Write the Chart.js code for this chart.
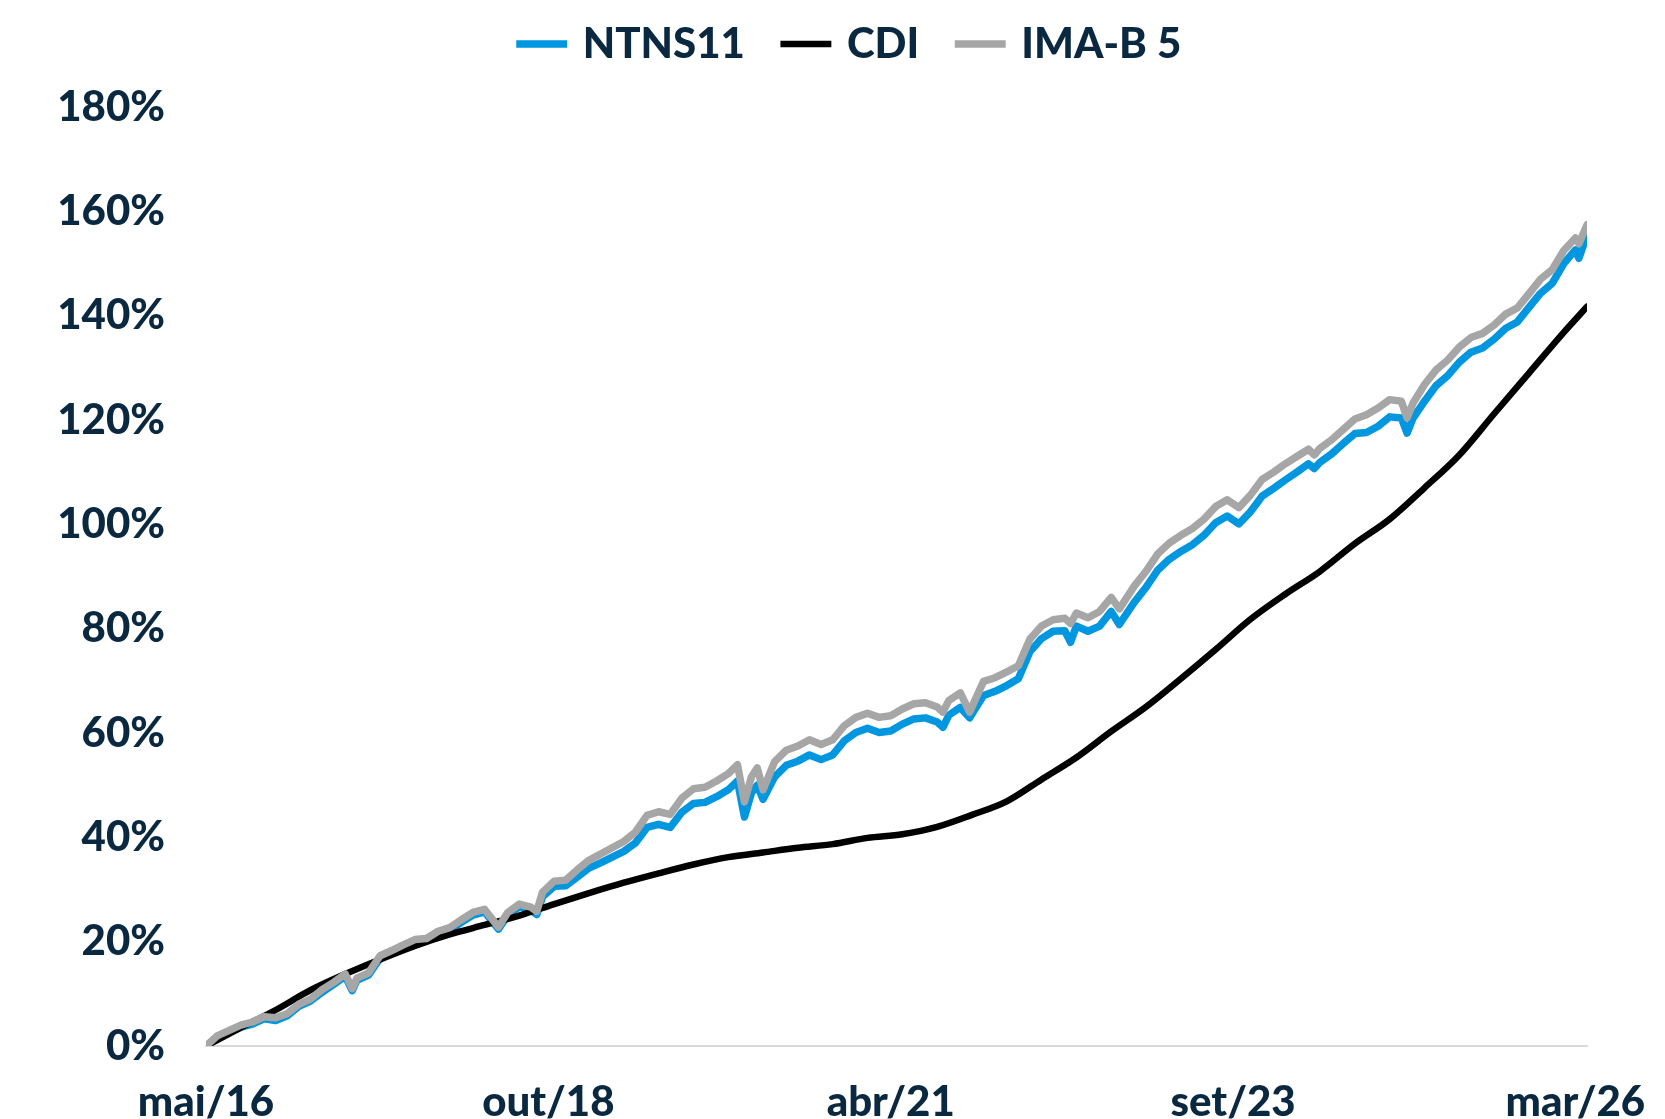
<!DOCTYPE html>
<html lang="pt-BR">
<head>
<meta charset="utf-8">
<title>NTNS11 x CDI x IMA-B 5</title>
<script src="https://cdn.jsdelivr.net/npm/chart.js@4.4.1/dist/chart.umd.min.js"></script>
<style>
  html, body { margin: 0; padding: 0; background: #ffffff; }
  #wrap { width: 1665px; height: 1119px; }
  canvas { display: block; }
</style>
</head>
<body>
<div id="wrap"><canvas id="chart" width="1665" height="1119"></canvas></div>
<script>
// Months elapsed since mai/16 for the market series (a few extra points mark sharp drawdowns)
const marketMonths = [
  0, 1, 2, 3, 4, 5, 6, 7, 8, 9,
  10, 11, 12, 12.6, 13, 14, 15, 16, 17, 18,
  19, 20, 21, 22, 23, 24, 25.2, 26, 27, 28,
  28.5, 29, 30, 31, 32, 33, 34, 35, 36, 37,
  38, 39, 40, 41, 42, 43, 44, 45, 45.8, 46.4,
  47, 47.5, 48, 49, 50, 51, 52, 53, 54, 55,
  56, 57, 58, 59, 60, 61, 62, 63, 63.5, 64,
  65, 65.8, 67, 68, 69, 70, 71, 72, 73, 74,
  74.5, 75, 76, 77, 78, 78.7, 79, 80, 81, 82,
  83, 84, 85, 86, 87, 88, 89, 90, 91, 92,
  93, 94, 95, 95.5, 96, 97, 98, 99, 100, 101,
  102, 103, 103.5, 104, 105, 106, 107, 108, 109, 110,
  111, 112, 113, 114, 115, 116, 117, 118, 118.3, 119
];

// Cumulative return (%) of NTNS11
const ntns11 = [
  0, 1.7, 2.6, 3.6, 4.2, 5.2, 4.9, 5.8, 7.6, 8.6,
  10.3, 11.8, 13.4, 10.6, 12.6, 13.6, 16.8, 17.8, 18.9, 19.9,
  20.1, 21.5, 22.2, 23.7, 25.1, 25.7, 22.4, 25.0, 26.7, 26.0,
  25.2, 28.6, 30.6, 30.7, 32.4, 34.1, 35.1, 36.2, 37.3, 38.9,
  41.9, 42.5, 41.9, 44.8, 46.5, 46.7, 47.8, 49.1, 50.8, 43.9,
  48.5, 50.0, 47.3, 51.6, 53.8, 54.6, 55.8, 54.9, 55.8, 58.5,
  60.1, 60.9, 60.1, 60.4, 61.7, 62.7, 62.9, 62.1, 61.1, 63.4,
  64.9, 62.9, 67.2, 68.0, 69.1, 70.4, 75.6, 78.1, 79.5, 79.6,
  77.4, 80.5, 79.5, 80.5, 83.3, 80.8, 81.8, 85.1, 87.9, 91.2,
  93.3, 94.8, 96.1, 97.9, 100.3, 101.6, 100.1, 102.4, 105.4, 106.9,
  108.5, 110.0, 111.6, 110.7, 111.9, 113.5, 115.5, 117.4, 117.6, 118.8,
  120.6, 120.4, 117.5, 120.3, 123.6, 126.6, 128.5, 131.1, 133.0, 133.8,
  135.5, 137.6, 138.8, 141.6, 144.3, 146.2, 150.0, 152.6, 151.0, 155.5
];

// Cumulative return (%) of IMA-B 5
const imab5 = [
  0, 2.0, 3.0, 4.0, 4.6, 5.6, 5.4, 6.2, 8.0, 9.0,
  10.8, 12.2, 13.8, 11.0, 13.0, 14.0, 17.3, 18.3, 19.4, 20.4,
  20.6, 22.0, 22.7, 24.2, 25.6, 26.2, 22.8, 25.6, 27.2, 26.6,
  25.8, 29.5, 31.6, 31.8, 33.8, 35.6, 36.8, 38.0, 39.2, 41.0,
  44.2, 44.9, 44.4, 47.5, 49.3, 49.6, 50.8, 52.2, 53.9, 46.8,
  51.6, 53.3, 49.1, 54.5, 56.7, 57.5, 58.7, 57.8, 58.7, 61.4,
  63.0, 63.8, 63.0, 63.3, 64.6, 65.6, 65.8, 65.0, 64.0, 66.2,
  67.7, 64.0, 69.9, 70.6, 71.7, 72.9, 78.0, 80.5, 81.7, 82.0,
  81.0, 83.0, 82.1, 83.3, 86.0, 83.8, 84.8, 88.2, 91.0, 94.3,
  96.4, 97.9, 99.2, 101.0, 103.4, 104.7, 103.2, 105.6, 108.6, 110.0,
  111.6, 113.0, 114.4, 113.3, 114.6, 116.2, 118.2, 120.2, 121.0, 122.3,
  123.9, 123.6, 120.4, 123.2, 126.8, 129.6, 131.5, 134.0, 135.8, 136.6,
  138.2, 140.3, 141.5, 144.2, 147.0, 148.8, 152.5, 154.9, 153.8, 157.4
];

// CDI accumulated (%), quarterly since mai/16
const cdiMonths = [
  0, 3, 6, 9, 12, 15, 18, 21, 24, 27,
  30, 33, 36, 39, 42, 45, 48, 51, 54, 57,
  60, 63, 66, 69, 72, 75, 78, 81, 84, 87,
  90, 93, 96, 99, 102, 105, 108, 111, 114, 117, 119
];
const cdi = [
  0, 3.5, 6.9, 10.7, 13.8, 16.6, 19.2, 21.4, 23.2, 25.0,
  27.2, 29.3, 31.3, 33.1, 34.8, 36.2, 37.1, 38.0, 38.7, 39.9,
  40.6, 42.0, 44.3, 46.9, 51.1, 55.3, 60.3, 65.0, 70.4, 76.0,
  81.8, 86.6, 91.0, 96.3, 101.0, 107.0, 113.3, 121.2, 129.0, 136.8, 141.7
];

// Date labels on the horizontal axis and where they sit (months since mai/16)
const tickLabels = ['mai/16', 'out/18', 'abr/21', 'set/23', 'mar/26'];
const tickMonths = [0, 29.5, 59, 88.5, 118];

const NAVY = '#0b2841';
const FONT = { family: 'Lato', weight: '900', size: 42 };

const toPoints = (xs, ys) => xs.map((x, i) => ({ x: x, y: ys[i] }));

// Keeps the legend band a fixed height (plot starts at the 180% line)
// and nudges the legend row so it sits over the plot
const legendBand = {
  id: 'legendBand',
  beforeInit(chart) {
    const legend = chart.legend;
    if (!legend) return;
    const fit = legend.fit;
    legend.fit = function () {
      fit.call(this);
      this.height = 107;
    };
  },
  afterLayout(chart) {
    const legend = chart.legend;
    if (!legend) return;
    legend.left += 38;
    legend.right += 38;
    legend.top -= 18;
  }
};

new Chart(document.getElementById('chart'), {
  type: 'line',
  data: {
    datasets: [
      {
        label: 'NTNS11',
        data: toPoints(marketMonths, ntns11),
        borderColor: '#0096e0',
        backgroundColor: '#0096e0',
        borderWidth: 7.5,
        order: 2
      },
      {
        label: 'CDI',
        data: toPoints(cdiMonths, cdi),
        borderColor: '#000000',
        backgroundColor: '#000000',
        borderWidth: 6.5,
        cubicInterpolationMode: 'monotone',
        order: 1
      },
      {
        label: 'IMA-B 5',
        data: toPoints(marketMonths, imab5),
        borderColor: '#a6a6a6',
        backgroundColor: '#a6a6a6',
        borderWidth: 7.5,
        order: 0
      }
    ]
  },
  plugins: [legendBand],
  options: {
    responsive: false,
    animation: false,
    devicePixelRatio: 1,
    layout: { padding: { left: 40, right: 78, top: 0, bottom: 0 } },
    elements: {
      point: { radius: 0, hoverRadius: 0, pointStyle: 'line' },
      line: { tension: 0, borderCapStyle: 'round', borderJoinStyle: 'round', fill: false }
    },
    plugins: {
      tooltip: { enabled: false },
      legend: {
        position: 'top',
        align: 'center',
        labels: {
          usePointStyle: true,
          pointStyle: 'line',
          boxHeight: 36,
          padding: 41,
          color: NAVY,
          font: FONT,
          sort: (a, b) => a.datasetIndex - b.datasetIndex
        }
      }
    },
    scales: {
      x: {
        type: 'linear',
        min: 0,
        max: 119,
        grid: { display: false, drawTicks: false },
        border: { display: true, color: '#d9d9d9', width: 2 },
        afterBuildTicks: (scale) => {
          scale.ticks = tickMonths.map(v => ({ value: v }));
        },
        afterFit: (scale) => {
          scale.height = 73;
          scale.paddingLeft = 0;
          scale.paddingRight = 0;
        },
        ticks: {
          autoSkip: false,
          maxRotation: 0,
          padding: 31,
          color: NAVY,
          font: FONT,
          callback: (value, index) => tickLabels[index]
        }
      },
      y: {
        min: 0,
        max: 180,
        grid: { display: false, drawTicks: false },
        border: { display: false },
        afterFit: (scale) => { scale.width = 166; },
        ticks: {
          stepSize: 20,
          padding: 41,
          color: NAVY,
          font: FONT,
          callback: (value) => value + '%'
        }
      }
    }
  }
});
</script>
</body>
</html>
